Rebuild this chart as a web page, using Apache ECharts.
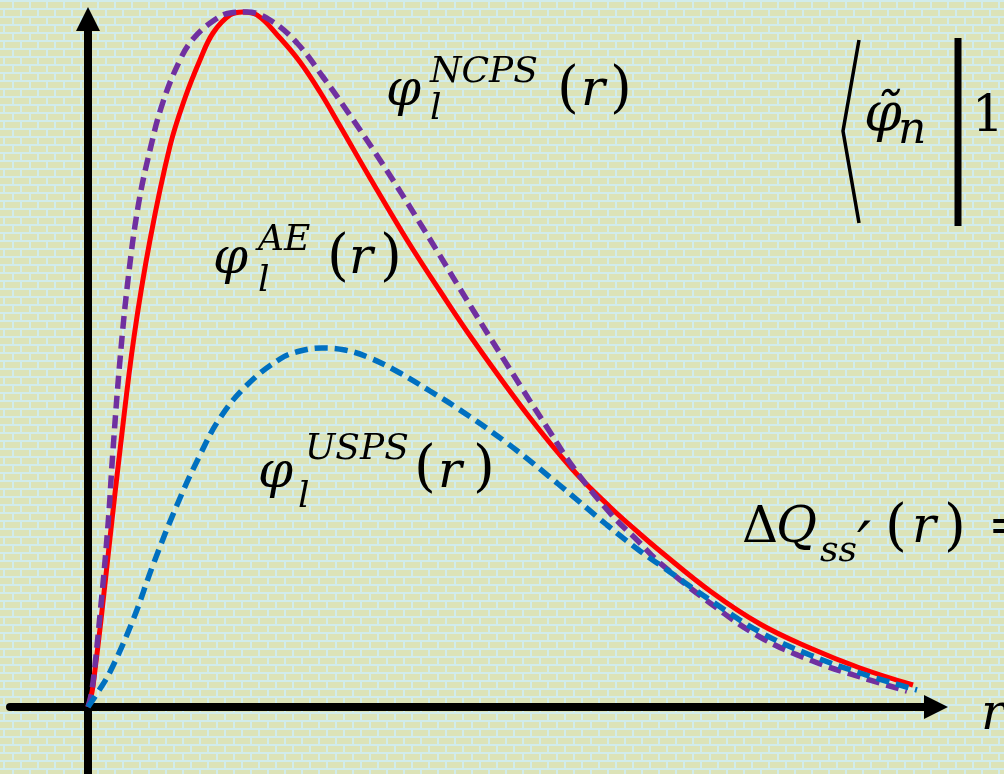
<!DOCTYPE html>
<html><head><meta charset="utf-8">
<script src="https://cdn.jsdelivr.net/npm/echarts/dist/echarts.min.js"></script>
<style>html,body{margin:0;padding:0;overflow:hidden}#c{width:1004px;height:774px}</style>
</head><body><div id="c"></div>
<script>
// values (r, phi) in arbitrary units
const phiAE = [[0,0],[0.4,1.5],[0.7,3.7],[1.3,8.7],[2.2,16.9],[3.2,25.7],[4.6,37.0],[6.2,46.7],[8.2,56.1],[9.7,60.9],[11.2,64.7],[12.5,67.4],[14.2,69.2],[15.5,69.5],[16.9,69.2],[19.2,66.9],[21.2,64.5],[23.2,61.5],[25.2,58.1],[28.2,52.9],[31.9,46.7],[35.2,41.6],[38.5,36.7],[43.9,29.3],[48.5,23.7],[52.2,20.0],[55.2,17.3],[57.2,15.6],[62.2,11.6],[67.2,8.3],[72.2,5.9],[77.2,3.9],[82.5,2.2]];
const phiNCPS = [[0,0],[0.4,1.7],[1.2,9.2],[2.0,18.2],[2.5,25.7],[3.2,34.7],[4.0,42.7],[5.0,50.0],[6.2,55.7],[7.5,60.5],[9.2,64.7],[10.5,66.8],[12.5,68.6],[14.2,69.4],[15.9,69.5],[18.2,68.7],[20.9,66.4],[23.5,63.0],[25.7,59.9],[29.2,54.7],[33.5,47.9],[38.5,39.7],[43.5,31.7],[46.2,27.5],[48.5,24.0],[52.2,19.4],[55.2,16.4],[57.2,14.4],[62.2,10.4],[67.2,7.0],[72.2,4.7],[77.2,3.0],[81.9,1.6]];
const phiUSPS = [[0,0],[1.0,1.5],[2.2,3.5],[4.5,8.7],[6.5,14.2],[8.9,20.2],[11.2,25.2],[13.2,28.9],[15.9,32.2],[19.2,34.8],[21.2,35.6],[23.4,35.9],[25.7,35.7],[28.2,34.9],[31.2,33.4],[34.2,31.6],[36.9,29.9],[41.9,26.4],[46.9,22.4],[51.9,18.2],[55.2,15.6],[57.2,14.2],[62.2,10.7],[67.2,7.5],[72.2,5.2],[77.2,3.4],[82.9,1.7]];
const seriesNames = ['AE','NCPS','USPS'];

// brick background
(function(){
  const W=34,H=16,c=document.createElement('canvas');c.width=W;c.height=H;
  const g=c.getContext('2d');g.fillStyle='#d1ecec';g.fillRect(0,0,W,H);
  g.fillStyle='#dce3b8';
  [[2,14],[10,5]].forEach(function(r){
    for(let x=r[1]-34;x<W+17;x+=17){g.fillRect(x,r[0],15,6);}
  });
  document.getElementById('c').style.background='url('+c.toDataURL()+')';
})();

const F='"DejaVu Serif"';
function T(s,x,base,size,italic){
  return {type:'text',x:x,y:base-0.35*size,z:100,style:{text:s,fill:'#000',
    font:(italic===false?'':'italic ')+size+'px '+F,align:'left',verticalAlign:'middle'}};
}
const graphics=[
  // NCPS label
  T('\u03C6',386,110,50),T('l',430,122,36),T('NCPS',430,85,36),T('(',557,111,56,false),T('r',581,110,50),T(')',610,111,56,false),
  // AE label
  T('\u03C6',213,278,50),T('l',258,294,36),T('AE',258,253,36),T('(',327,279,56,false),T('r',349,278,50),T(')',380,279,56,false),
  // USPS label
  T('\u03C6',258,492,50),T('l',298,510,36),T('USPS',305,462,36),T('(',414,490,56,false),T('r',438,492,50),T(')',473,490,56,false),
  // Delta Q
  T('\u0394',742,547,50,false),T('Q',776,547,50),T('ss',820,564,36),T('\u2032',857,572,62),T('(',885,549,56,false),T('r',912,547,50),T(')',944,549,56,false),T('=',988,547,50,false),
  // bracket term
  T('\u03C6\u0303',864,136,54),T('n',898,147,44),T('1',972,136,50,false),
  {type:'polyline',z:100,shape:{points:[[859,40],[843,131],[859,223]]},style:{stroke:'#000',lineWidth:3.5,fill:null}},
  {type:'line',z:100,shape:{x1:958,y1:38,x2:958,y2:226},style:{stroke:'#000',lineWidth:7}},
  // axis label
  T('r',981,734,50)
];

const axisLine={onZero:true,symbol:['none','triangle'],symbolSize:[24,24],lineStyle:{color:'#000',width:8}};
const chart=echarts.init(document.getElementById('c'),null,{renderer:'canvas'});
chart.setOption({
  backgroundColor:'transparent',
  animation:false,
  grid:{left:10,right:68,top:19,bottom:0,containLabel:false,outerBoundsMode:'none'},
  xAxis:{type:'value',min:-7.8,max:84.8,axisLine:axisLine,axisTick:{show:false},axisLabel:{show:false},splitLine:{show:false}},
  yAxis:{type:'value',min:-6.7,max:68.8,axisLine:axisLine,axisTick:{show:false},axisLabel:{show:false},splitLine:{show:false}},
  series:[
    {name:seriesNames[0],type:'line',data:phiAE,smooth:0.4,showSymbol:false,clip:false,z:3,lineStyle:{color:'#ff0000',width:5}},
    {name:seriesNames[1],type:'line',data:phiNCPS,smooth:0.4,showSymbol:false,clip:false,z:4,lineStyle:{color:'#7030a0',width:5.5,type:[13,7]}},
    {name:seriesNames[2],type:'line',data:phiUSPS,smooth:0.4,showSymbol:false,clip:false,z:5,lineStyle:{color:'#0070c0',width:5.5,type:[13,7]}}
  ],
  graphic:graphics
});
</script></body></html>
